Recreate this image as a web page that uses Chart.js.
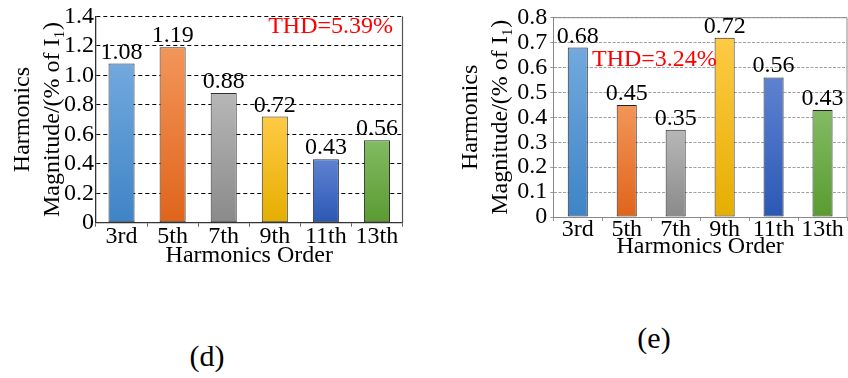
<!DOCTYPE html>
<html>
<head>
<meta charset="utf-8">
<script src="https://cdn.jsdelivr.net/npm/chart.js@4"></script>
<style>
  html, body { margin: 0; padding: 0; background: #fff; width: 848px; height: 378px; overflow: hidden; }
  canvas { position: absolute; top: 0; }
  #chartD { left: 0; }
  #chartE { left: 424px; }
  .cap { position: absolute; font-family: "Liberation Serif", serif; font-size: 30px; line-height: 30px; width: 100px; text-align: center; color: #000; }
</style>
</head>
<body>
<canvas id="chartD" width="424" height="280"></canvas>
<canvas id="chartE" width="424" height="280"></canvas>
<div class="cap" style="left:157px; top:341px;">(d)</div>
<div class="cap" style="left:604px; top:323px;">(e)</div>
<script>
// Harmonic orders on the x axis
const categories = ['3rd', '5th', '7th', '9th', '11th', '13th'];

// Harmonic magnitudes, % of the fundamental
const valuesD = [1.08, 1.19, 0.88, 0.72, 0.43, 0.56];
const valuesE = [0.68, 0.45, 0.35, 0.72, 0.56, 0.43];

// Y tick labels
const ticksD = ['0', '0.2', '0.4', '0.6', '0.8', '1.0', '1.2', '1.4'];
const ticksE = ['0', '0.1', '0.2', '0.3', '0.4', '0.5', '0.6', '0.7', '0.8'];

// Total harmonic distortion notes
const thdD = 'THD=5.39%';
const thdE = 'THD=3.24%';

// Axis titles
const yTitle = ['Harmonics', 'Magnitude/(% of I\u2081)'];
const xTitle = 'Harmonics Order';

// Bar fills: light top → darker bottom
const barTop    = ['#72a9de', '#f29659', '#b7b7b7', '#ffca45', '#5e82d1', '#83bb63'];
const barBottom = ['#3e84c6', '#e0641a', '#8a8a8a', '#e5ae00', '#2b58b5', '#5a9b30'];

const FONT = '"Liberation Serif", "Times New Roman", serif';

// Per-bar vertical gradient
function gradientFill(ctx) {
  const chart = ctx.chart;
  const area = chart.chartArea;
  if (!area || ctx.dataIndex === undefined) return barTop[0];
  const i = ctx.dataIndex;
  const y = chart.scales.y.getPixelForValue(ctx.raw);
  const g = chart.ctx.createLinearGradient(0, y, 0, area.bottom);
  g.addColorStop(0, barTop[i]);
  g.addColorStop(1, barBottom[i]);
  return g;
}

// Value labels above bars, frame edges and the THD note
const decorations = {
  id: 'decorations',
  afterDatasetsDraw(chart, args, opts) {
    const c = chart.ctx;
    const a = chart.chartArea;
    c.save();
    c.strokeStyle = opts.frameColor;
    c.lineWidth = opts.frameWidth;
    c.beginPath();
    c.moveTo(a.right, a.top);
    c.lineTo(a.right, a.bottom);
    if (opts.topLine) {
      c.moveTo(a.left, a.top);
      c.lineTo(a.right, a.top);
    }
    c.stroke();

    c.font = '24px ' + FONT;
    c.fillStyle = '#000';
    c.textAlign = 'center';
    c.textBaseline = 'alphabetic';
    const meta = chart.getDatasetMeta(0);
    const data = chart.data.datasets[0].data;
    meta.data.forEach((bar, i) => {
      c.fillText(data[i].toFixed(2), bar.x, bar.y - 5);
    });

    c.fillStyle = '#ff0000';
    c.textAlign = opts.thdAlign;
    c.textBaseline = 'middle';
    c.fillText(opts.thdText, opts.thdX, opts.thdY);
    c.restore();
  }
};

function makeChart(id, values, tickLabels, maxY, step, s) {
  return new Chart(document.getElementById(id), {
    type: 'bar',
    data: {
      labels: categories,
      datasets: [{
        data: values,
        backgroundColor: gradientFill,
        borderColor: s.barBorder,
        borderWidth: 1,
        borderSkipped: false,
        barPercentage: s.barPct,
        categoryPercentage: 1
      }]
    },
    options: {
      responsive: false,
      animation: false,
      devicePixelRatio: 1,
      layout: { padding: { top: s.padTop, right: s.padRight, bottom: 0, left: 0 } },
      plugins: {
        legend: { display: false },
        tooltip: { enabled: false },
        decorations: {
          frameColor: s.frameColor, frameWidth: s.frameWidth, topLine: s.topLine,
          thdText: s.thdText, thdX: s.thdX, thdY: s.thdY, thdAlign: s.thdAlign
        }
      },
      scales: {
        x: {
          offset: true,
          grid: { display: true, drawOnChartArea: false, drawTicks: true, tickLength: 4, offset: true, color: s.tickColor },
          border: { display: true, color: s.axisColor, width: s.axisWidth },
          ticks: { color: '#000', font: { family: FONT, size: 24, lineHeight: 1.0 }, padding: s.xTickPad, autoSkip: false, maxRotation: 0 },
          title: { display: true, text: xTitle, color: '#000', font: { family: FONT, size: 24, lineHeight: 1.2 }, padding: { top: 0, bottom: s.xTitlePad } },
          afterFit(scale) { scale.height = s.xHeight; }
        },
        y: {
          min: 0,
          max: maxY,
          grid: { color: s.gridColor, lineWidth: 1, drawTicks: s.yTicks, tickLength: 3, tickColor: s.tickColor },
          border: { display: true, color: s.axisColor, width: s.axisWidth, dash: s.dash },
          ticks: {
            stepSize: step,
            autoSkip: false,
            color: '#000',
            font: { family: FONT, size: 24 },
            padding: s.yTickPad,
            callback: (v, i) => tickLabels[i]
          },
          title: { display: true, text: yTitle, color: '#000', font: { family: FONT, size: 24, lineHeight: 1.25 }, padding: { top: s.yTitlePad, bottom: 0 } },
          afterFit(scale) { scale.width = s.yWidth; }
        }
      }
    },
    plugins: [decorations]
  });
}

function drawAll() {
  makeChart('chartD', valuesD, ticksD, 1.4, 0.2, {
    barBorder: '#2e2e2e', barPct: 0.51,
    padTop: 16, padRight: 21.5,
    frameColor: '#555', frameWidth: 1.2, topLine: false,
    thdText: thdD, thdX: 393, thdY: 27, thdAlign: 'right',
    tickColor: '#666', axisColor: '#333', axisWidth: 1.3,
    gridColor: '#000', dash: [4, 3], yTicks: false,
    xTickPad: -1.8, xTitlePad: 10, xHeight: 57.3,
    yTickPad: 2, yTitlePad: 7.7, yWidth: 96
  });

  makeChart('chartE', valuesE, ticksE, 0.8, 0.1, {
    barBorder: '#222', barPct: 0.41,
    padTop: 17.7, padRight: 1,
    frameColor: '#888', frameWidth: 1, topLine: true,
    thdText: thdE, thdX: 168, thdY: 60, thdAlign: 'left',
    tickColor: '#999', axisColor: '#888', axisWidth: 1,
    gridColor: '#a0a0a0', dash: [3, 1.5], yTicks: true,
    xTickPad: -2.8, xTitlePad: 18.7, xHeight: 63,
    yTickPad: 3, yTitlePad: 31.7, yWidth: 129.3
  });
}

// Make sure the serif face is ready before painting the canvases
document.fonts.load('24px "Liberation Serif"').then(drawAll, drawAll);
</script>
</body>
</html>
